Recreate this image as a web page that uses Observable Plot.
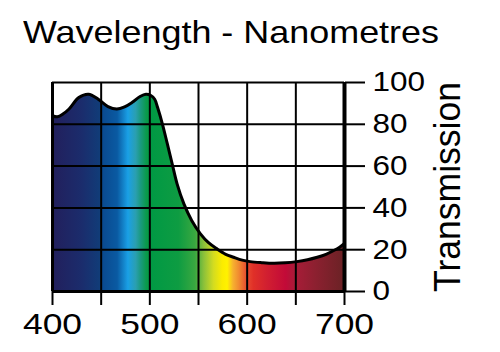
<!DOCTYPE html>
<html><head><meta charset="utf-8">
<script src="https://cdn.jsdelivr.net/npm/d3@7"></script>
<script src="https://cdn.jsdelivr.net/npm/@observablehq/plot@0.6"></script>
<style>
body{margin:0;background:#fff;font-family:"Liberation Sans",Arial,sans-serif;color:#000;}
#title{height:34px;padding-top:16px;padding-left:23px;font-size:32px;line-height:32px;white-space:nowrap;}
#title span{display:inline-block;transform-origin:0 0;}
svg{display:block;}
</style></head><body>
<div id="chart"><div id="title"><span>Wavelength - Nanometres</span></div></div>
<script>
const wavelengths = [400,405,411,417,427,437,447,457,466,474,482,490,496,501,505,508,513,518,523,528,535,543,552,560,569,578,586,595,603,615,627,639,651,662,672,681,689,695,700];
const transmission = [84.1,83.6,85,87.3,92.8,94.4,92,88.5,87.3,88.3,90.5,93.3,94.4,93.8,92,88,80,70.6,61,51.5,41.9,34,27.6,23.5,20.4,17.8,16.4,15,14.3,13.8,13.5,13.7,14.3,15.2,16.4,17.8,19.6,21.2,23];
const gradientNm = [400,430,449,452,467,478,486,491,497,501,530,547,556,566,575,580,586,592,600,607,620,640,650,670,700];
const gradientColors = ["#221f5c","#1b2c6c","#113c78","#0a4a90","#0a5aa2","#1aa0e6","#2a9fb0","#1a9a80","#0a9a4a","#009944","#0e9c42","#3aa840","#8cc13a","#d4dc20","#fbec00","#fff200","#f6b030","#f08a30","#e84a30","#e03028","#d22030","#c20a38","#a81c38","#8d2030","#6a2225"];
const xTicks = [400,450,500,550,600,650,700];
const xLabels = [400,500,600,700];
const yTicks = [0,20,40,60,80,100];
const yTitle = "Transmission";

const data = wavelengths.map((w, i) => ({w, t: transmission[i]}));

function spectrumDefs(index, scales) {
  const defs = d3.create("svg:defs");
  const x1 = scales.x(wavelengths[0]), x2 = scales.x(wavelengths[wavelengths.length - 1]);
  const g = defs.append("linearGradient").attr("id", "spectrum")
    .attr("gradientUnits", "userSpaceOnUse")
    .attr("x1", x1).attr("x2", x2).attr("y1", 0).attr("y2", 0);
  gradientNm.forEach((nm, i) => {
    g.append("stop").attr("offset", (scales.x(nm) - x1) / (x2 - x1)).attr("stop-color", gradientColors[i]);
  });
  return defs.node();
}

const plot = Plot.plot({
  width: 500, height: 302,
  marginTop: 32, marginBottom: 61, marginLeft: 52, marginRight: 156,
  x: {domain: [400, 700]},
  y: {domain: [0, 100]},
  style: {fontFamily: "Liberation Sans, Arial, sans-serif", color: "#000", background: "#fff", overflow: "visible"},
  marks: [
    spectrumDefs,
    Plot.areaY(data, {x: "w", y: "t", fill: "url(#spectrum)", curve: "catmull-rom"}),
    Plot.gridX({ticks: xTicks, stroke: "#000", strokeOpacity: 1, strokeWidth: 2}),
    Plot.gridY({ticks: yTicks, stroke: "#000", strokeOpacity: 1, strokeWidth: 2}),
    Plot.ruleX([400], {stroke: "#000", strokeWidth: 3}),
    Plot.ruleX([700], {stroke: "#000", strokeWidth: 4}),
    Plot.ruleY([0], {stroke: "#000", strokeWidth: 3}),
    Plot.lineY(data, {x: "w", y: "t", stroke: "#000", strokeWidth: 3, curve: "catmull-rom"}),
    Plot.axisX({ticks: xTicks, tickSize: 14, tickFormat: () => "", strokeWidth: 2, label: null}),
    Plot.axisX({ticks: xLabels, tickSize: 0, tickPadding: 21, fontSize: 30, tickFormat: d => String(d), label: null}),
    Plot.axisY({anchor: "right", ticks: yTicks, tickSize: 20, tickPadding: 8, fontSize: 28, strokeWidth: 2, label: null}),
    Plot.text([yTitle], {frameAnchor: "right", dx: 104, rotate: -90, fontSize: 36, text: d => d, textAnchor: "middle", lineAnchor: "middle"})
  ]
});

const sel = d3.select(plot);
sel.selectAll('g[aria-label="x-axis tick label"] text').each(function () {
  const n = this.textContent.length;
  if (n) d3.select(this).attr("textLength", n * 19.7).attr("lengthAdjust", "spacingAndGlyphs");
});
sel.selectAll('g[aria-label="y-axis tick label"] text').each(function () {
  const n = this.textContent.length;
  if (n) d3.select(this).attr("textLength", n * 17.5).attr("lengthAdjust", "spacingAndGlyphs");
});
sel.selectAll('g[aria-label="text"] text').attr("textLength", 210).attr("lengthAdjust", "spacingAndGlyphs");

document.getElementById("chart").appendChild(plot);
const span = document.querySelector("#title span");
const w = span.getBoundingClientRect().width;
span.style.transform = `scaleX(${416 / w})`;
</script>
</body></html>
